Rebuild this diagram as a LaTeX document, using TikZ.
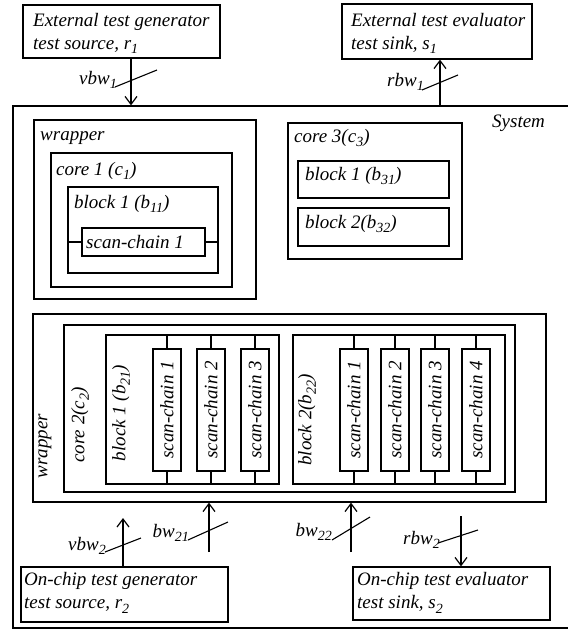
\documentclass[tikz,border=0pt]{standalone}
\usepackage{fontspec}
\setmainfont{Liberation Serif}
\usetikzlibrary{arrows.meta,fit}
\newcommand\sbs[1]{\raisebox{-4.5pt}{\fontsize{14}{14}\selectfont #1}}
\begin{document}
\begin{tikzpicture}[x=1pt,y=-1pt,
  every node/.style={font=\fontsize{19}{23}\selectfont\itshape},
  box/.style={draw, line width=1.3pt, inner sep=0pt},
  txt/.style={anchor=base west, inner sep=0pt},
  mtxt/.style={anchor=north west, inner sep=0pt, align=left},
  lab/.style={anchor=base east, inner sep=0pt},
  arr/.style={line width=1.2pt, -{Straight Barb[length=8pt,width=12pt,line width=1.2pt]}},
  tick/.style={line width=1.1pt},
  lnk/.style={line width=1.1pt},
  sc/.style={draw, line width=1.3pt, rotate=90, minimum width=122pt, minimum height=28pt, inner sep=0pt}]
\useasboundingbox (0,0) rectangle (568,633);

% external boxes
\node[box, fit={(23,5) (220,58)}] (gen1) {};
\node[mtxt] (gen1t) at (33,13) {External test generator\\test source, r\sbs{1}};
\node[box, fit={(342,4) (532,59)}] (eval1) {};
\node[mtxt] (eval1t) at (351,13) {External test evaluator\\test sink, s\sbs{1}};

% system
\node[box, fit={(13,106) (575,628)}] (sys) {};
\node[txt] (syst) at (492,127) {System};

% upper wrapper / core 1
\node[box, fit={(34,120) (256,299)}] (wrap1) {};
\node[txt] (wrap1t) at (40,140) {wrapper};
\node[box, fit={(51,153) (232,287)}] (core1) {};
\node[txt] (core1t) at (56,175) {core 1 (c\sbs{1})};
\node[box, fit={(68,187) (218,273)}] (b11) {};
\node[txt] (b11t) at (74,208) {block 1 (b\sbs{11})};
\node[box, fit={(82,228) (205,256)}] (sc1) {};
\node[txt] (sc1t) at (86,248) {scan-chain 1};
\draw[lnk] (b11.west |- sc1.west) -- (sc1.west);
\draw[lnk] (sc1.east) -- (b11.east |- sc1.east);

% core 3
\node[box, fit={(288,123) (462,259)}] (core3) {};
\node[txt] (core3t) at (294,142) {core 3(c\sbs{3})};
\node[box, fit={(298,161) (449,198)}] (b31) {};
\node[txt] (b31t) at (305,180) {block 1 (b\sbs{31})};
\node[box, fit={(298,208) (449,246)}] (b32) {};
\node[txt] (b32t) at (305,228) {block 2(b\sbs{32})};

% lower wrapper / core 2
\node[box, fit={(33,314) (546,502)}] (wrap2) {};
\node[rotate=90, inner sep=0pt] (wrap2t) at (45,446) {wrapper};
\node[box, fit={(64,325) (515,492)}] (core2) {};
\node[rotate=90, inner sep=0pt] (core2t) at (80,425) {core 2(c\sbs{2})};
\node[box, fit={(106,335) (279,484)}] (b21) {};
\node[rotate=90, inner sep=0pt] (b21t) at (121,413) {block 1 (b\sbs{21})};
\node[box, fit={(293,335) (505,484)}] (b22) {};
\node[rotate=90, inner sep=0pt] (b22t) at (307,420) {block 2(b\sbs{22})};

\node[sc] (s211) at (167,410) {scan-chain 1};
\node[sc] (s212) at (211,410) {scan-chain 2};
\node[sc] (s213) at (255,410) {scan-chain 3};
\node[sc] (s221) at (354,410) {scan-chain 1};
\node[sc] (s222) at (395,410) {scan-chain 2};
\node[sc] (s223) at (435,410) {scan-chain 3};
\node[sc] (s224) at (476,410) {scan-chain 4};
\foreach \s in {s211,s212,s213}{
  \draw[lnk] (\s.east) -- (b21.north -| \s.east);
  \draw[lnk] (\s.west) -- (b21.south -| \s.west);
}
\foreach \s in {s221,s222,s223,s224}{
  \draw[lnk] (\s.east) -- (b22.north -| \s.east);
  \draw[lnk] (\s.west) -- (b22.south -| \s.west);
}

% on-chip boxes
\node[box, fit={(21,567) (228,622)}] (gen2) {};
\node[mtxt] (gen2t) at (24,572.5) {On-chip test generator\\test source, r\sbs{2}};
\node[box, fit={(353,567) (550,620)}] (eval2) {};
\node[mtxt] (eval2t) at (357,572.5) {On-chip test evaluator\\test sink, s\sbs{2}};

% top arrows
\coordinate (a1) at (131,0);
\coordinate (a2) at (440,0);
\draw[arr] (gen1.south -| a1) -- (sys.north -| a1);
\draw[arr] (sys.north -| a2) -- (eval1.south -| a2);
\draw[tick] (115,87) -- (157,70);
\draw[tick] (422,90) -- (458,75);
\node[lab] (vbw1) at (117,84) {vbw\sbs{1}};
\node[lab] (rbw1) at (424,86) {rbw\sbs{1}};

% bottom arrows
\coordinate (v2end) at (123,518);
\coordinate (bw21s) at (209,552);
\coordinate (bw22s) at (351,552);
\coordinate (r2s) at (461,516);
\draw[arr] (gen2.north -| v2end) -- (v2end);
\draw[arr] (bw21s) -- (wrap2.south -| bw21s);
\draw[arr] (bw22s) -- (wrap2.south -| bw22s);
\draw[arr] (r2s) -- (eval2.north -| r2s);
\draw[tick] (105,552) -- (141,538);
\draw[tick] (188,540) -- (228,522);
\draw[tick] (332,540) -- (370,517);
\draw[tick] (438,543) -- (478,530);
\node[lab] (vbw2) at (106,550) {vbw\sbs{2}};
\node[lab] (bw21) at (189,537) {bw\sbs{21}};
\node[lab] (bw22) at (332,536) {bw\sbs{22}};
\node[lab] (rbw2) at (440,544) {rbw\sbs{2}};
\end{tikzpicture}
\end{document}
